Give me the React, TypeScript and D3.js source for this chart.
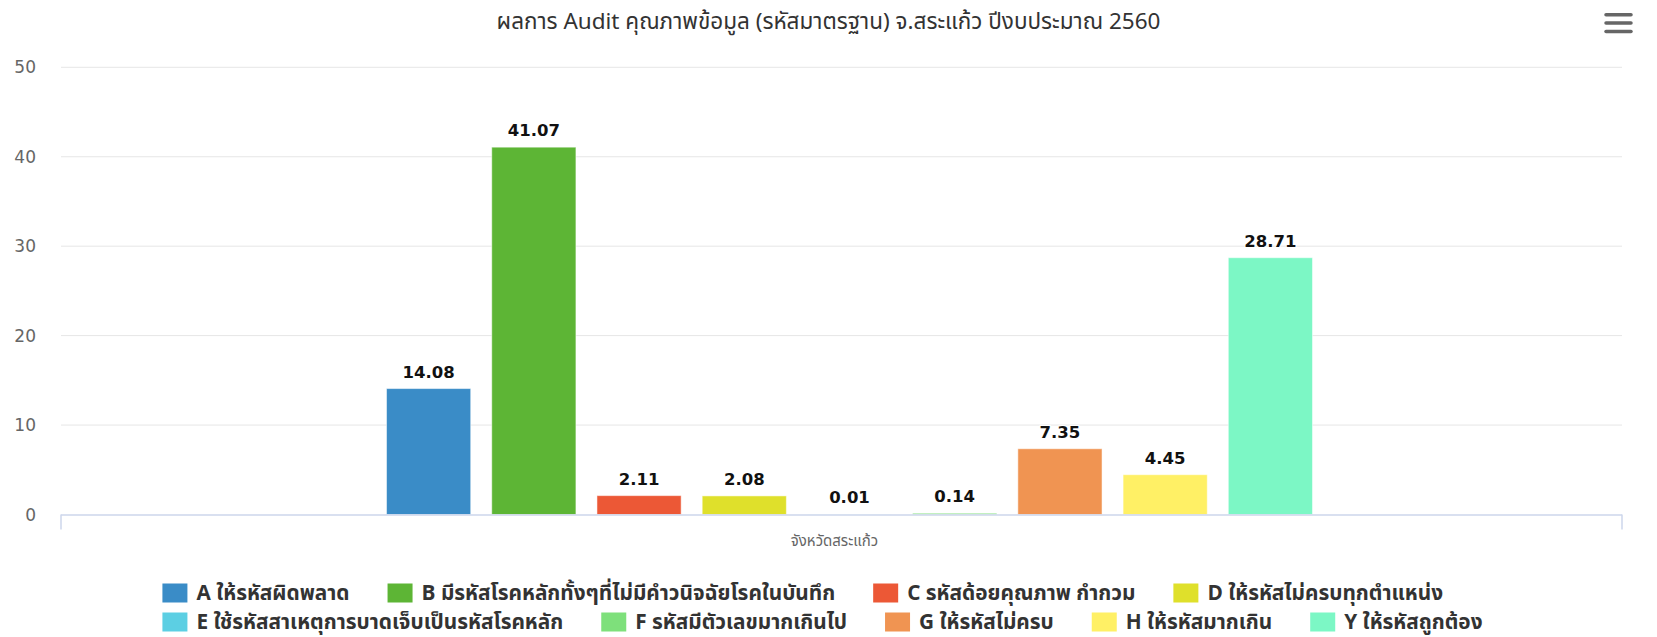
import React, { useEffect, useState } from "react";
import * as d3 from "d3";

const title = "ผลการ Audit คุณภาพข้อมูล (รหัสมาตรฐาน) จ.สระแก้ว ปีงบประมาณ 2560";
const categories = ["จังหวัดสระแก้ว"];
const seriesNames = [
  "A ให้รหัสผิดพลาด",
  "B มีรหัสโรคหลักทั้งๆที่ไม่มีคำวนิจฉัยโรคในบันทึก",
  "C รหัสด้อยคุณภาพ กำกวม",
  "D ให้รหัสไม่ครบทุกตำแหน่ง",
  "E ใช้รหัสสาเหตุการบาดเจ็บเป็นรหัสโรคหลัก",
  "F รหัสมีตัวเลขมากเกินไป",
  "G ให้รหัสไม่ครบ",
  "H ให้รหัสมากเกิน",
  "Y ให้รหัสถูกต้อง",
];
const seriesValues = [14.08, 41.07, 2.11, 2.08, 0.01, 0.14, 7.35, 4.45, 28.71];
const seriesColors = [
  "#3a8cc7", "#5db535", "#ec5836", "#dfe02b", "#5ccfe3",
  "#7ee07b", "#f09452", "#fff065", "#7cf7c5",
];
const yTicks = [0, 10, 20, 30, 40, 50];

const W = 1657;
const H = 637;
const THAI = "'Noto Sans Thai', 'Noto Sans Thai UI', Loma, Garuda, 'Tlwg Typo', Kinnari, Norasi, 'DejaVu Sans', sans-serif";
const NUM = "'DejaVu Sans', sans-serif";
const LEGEND_FS = 20.8;

function measure(text: string, font: string): number {
  const c = document.createElement("canvas");
  const ctx = c.getContext("2d")!;
  ctx.font = font;
  return ctx.measureText(text).width;
}

export default function App() {
  const [widths, setWidths] = useState<number[] | null>(null);
  useEffect(() => {
    document.body.style.margin = "0";
    setWidths(seriesNames.map((n) => measure(n, `bold ${LEGEND_FS}px ${THAI}`)));
  }, []);

  const plotLeft = 61;
  const plotRight = 1622;
  const y = d3.scaleLinear().domain([0, 50]).range([514.5, 67.3]);
  const xCat = d3.scaleBand<string>().domain(categories).range([plotLeft, plotRight]);
  const catCenter = (xCat(categories[0]) ?? 0) + xCat.bandwidth() / 2 + 8;
  const groupWidth = 947;
  const xSeries = d3
    .scaleBand<string>()
    .domain(seriesNames)
    .range([catCenter - groupWidth / 2, catCenter + groupWidth / 2])
    .paddingInner(0.2)
    .paddingOuter(0.1);

  // legend layout
  const symW = 25, symH = 19, symGap = 9, itemDist = 38, maxW = 1600;
  const rows: { idx: number; w: number }[][] = [];
  if (widths) {
    let cur: { idx: number; w: number }[] = [];
    let curW = 0;
    widths.forEach((tw, i) => {
      const iw = symW + symGap + tw;
      const add = cur.length ? itemDist + iw : iw;
      if (curW + add > maxW && cur.length) {
        rows.push(cur);
        cur = [];
        curW = 0;
      }
      cur.push({ idx: i, w: iw });
      curW += cur.length > 1 ? itemDist + iw : iw;
    });
    if (cur.length) rows.push(cur);
  }
  const rowWidths = rows.map((r) => r.reduce((s, it, k) => s + it.w + (k ? itemDist : 0), 0));
  const legendW = rowWidths.length ? Math.max(...rowWidths) : 0;
  const legendLeft = (W - legendW) / 2 - 6;
  const rowY = [593, 622];

  return (
    <svg width={W} height={H} style={{ display: "block" }}>
      <rect width={W} height={H} fill="#fff" />
      <text x={W / 2} y={29} textAnchor="middle" fontSize={22.5} fill="#333" fontFamily={THAI}>
        {title}
      </text>
      {/* menu icon */}
      {[14.7, 23, 31.5].map((yy, i) => (
        <line key={i} x1={1606} x2={1631} y1={yy} y2={yy} stroke="#666" strokeWidth={3.5} strokeLinecap="round" />
      ))}
      {/* grid */}
      {yTicks.filter((t) => t > 0).map((t) => (
        <line key={t} x1={plotLeft} x2={plotRight} y1={y(t)} y2={y(t)} stroke="#e6e6e6" strokeWidth={1} />
      ))}
      {yTicks.map((t) => (
        <text key={t} x={36} y={y(t) + 6} textAnchor="end" fontSize={17} fill="#666" fontFamily={NUM}>
          {t}
        </text>
      ))}
      {/* bars */}
      {seriesNames.map((s, i) => {
        const x0 = xSeries(s) ?? 0;
        const bw = xSeries.bandwidth();
        const v = seriesValues[i];
        const top = y(v);
        return (
          <g key={s}>
            <rect x={x0} y={top} width={bw} height={y(0) - top} fill={seriesColors[i]} stroke="#fff" strokeWidth={1} strokeOpacity={0.5} />
            <text x={x0 + bw / 2} y={top - 11} textAnchor="middle" fontSize={16.5} fontWeight="bold" fill="#111" fontFamily={NUM}
              stroke="#fff" strokeWidth={2} paintOrder="stroke">
              {v.toFixed(2)}
            </text>
          </g>
        );
      })}
      {/* x axis */}
      <line x1={plotLeft} x2={plotRight} y1={y(0) + 0.5} y2={y(0) + 0.5} stroke="#ccd6eb" strokeWidth={1.5} />
      {[plotLeft, plotRight].map((xx) => (
        <line key={xx} x1={xx} x2={xx} y1={y(0)} y2={y(0) + 15} stroke="#ccd6eb" strokeWidth={1.5} />
      ))}
      <text x={catCenter - 15} y={546} textAnchor="middle" fontSize={15} fill="#666" fontFamily={THAI}>
        {categories[0]}
      </text>
      {/* legend */}
      {rows.map((r, ri) => {
        let cx = legendLeft;
        return r.map((it, k) => {
          if (k) cx += itemDist;
          const x0 = cx;
          cx += it.w;
          return (
            <g key={it.idx}>
              <rect x={x0} y={rowY[ri] - symH / 2} width={symW} height={symH} fill={seriesColors[it.idx]} />
              <text x={x0 + symW + symGap} y={rowY[ri] + 7} fontSize={LEGEND_FS} fontWeight="bold" fill="#333" fontFamily={THAI}>
                {seriesNames[it.idx]}
              </text>
            </g>
          );
        });
      })}
    </svg>
  );
}
